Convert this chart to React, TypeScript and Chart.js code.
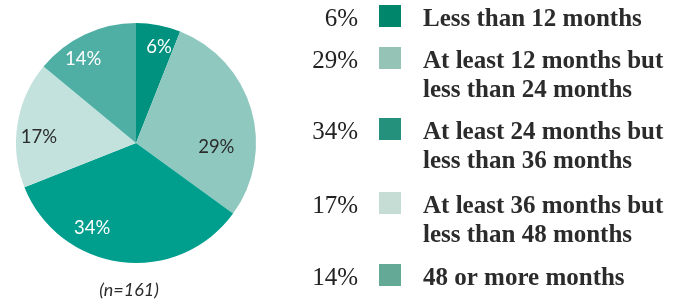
import React, { useEffect, useRef } from "react";
import { Chart, registerables } from "chart.js";

Chart.register(...registerables);

const categories = [
  ["Less than 12 months"],
  ["At least 12 months but", "less than 24 months"],
  ["At least 24 months but", "less than 36 months"],
  ["At least 36 months but", "less than 48 months"],
  ["48 or more months"],
];
const values = [6, 29, 34, 17, 14];
const percentLabels = ["6%", "29%", "34%", "17%", "14%"];
const sliceColors = ["#00917f", "#8fc8bf", "#009e8d", "#c3e2dd", "#50afa5"];
const swatchColors = ["#00866a", "#95c3b6", "#24917c", "#c5ddd5", "#63a995"];
const sliceLabelColors = ["#ffffff", "#2b2b2b", "#ffffff", "#2b2b2b", "#ffffff"];
// label placement relative to each slice: angle offset (deg) from mid-angle, radius fraction
const labelPlacement = [
  [2.8, 0.82],
  [19, 0.67],
  [20, 0.8],
  [-5.5, 0.81],
  [-6.8, 0.83],
];
const sampleNote = "(n=161)";

const legendPlugin = {
  id: "customLegend",
  afterDraw(chart: any) {
    const ctx = chart.ctx;
    const meta = chart.getDatasetMeta(0);
    ctx.save();
    // slice labels
    ctx.font = "18.5px Lato";
    ctx.textAlign = "center";
    ctx.textBaseline = "middle";
    meta.data.forEach((arc: any, i: number) => {
      const { x, y, startAngle, endAngle, outerRadius } = arc.getProps(
        ["x", "y", "startAngle", "endAngle", "outerRadius"],
        true
      );
      const mid = (startAngle + endAngle) / 2 + (labelPlacement[i][0] * Math.PI) / 180;
      const r = outerRadius * labelPlacement[i][1];
      ctx.fillStyle = sliceLabelColors[i];
      ctx.fillText(percentLabels[i], x + Math.cos(mid) * r, y + Math.sin(mid) * r);
    });
    // sample note
    const cx = (chart.chartArea.left + chart.chartArea.right) / 2;
    ctx.font = "italic 18px Lato";
    ctx.fillStyle = "#2b2b2b";
    ctx.textBaseline = "alphabetic";
    ctx.fillText(sampleNote, cx - 7, 296);

    // legend
    const baselines = [26, 68, 139, 213, 285];
    const lineH = 29;
    ctx.textBaseline = "alphabetic";
    categories.forEach((lines, i) => {
      const b = baselines[i];
      ctx.font = "25px 'Liberation Serif'";
      ctx.fillStyle = "#222222";
      ctx.textAlign = "right";
      ctx.fillText(percentLabels[i], 358, b);
      ctx.fillStyle = swatchColors[i];
      ctx.fillRect(379, b - 21, 22, 22);
      ctx.font = "bold 25px 'Liberation Serif'";
      ctx.fillStyle = "#2b2b2b";
      ctx.textAlign = "left";
      lines.forEach((ln, j) => ctx.fillText(ln, 423, b + j * lineH));
    });
    ctx.restore();
  },
};

export default function App() {
  const ref = useRef<HTMLCanvasElement>(null);
  useEffect(() => {
    if (!ref.current) return;
    const chart = new Chart(ref.current, {
      type: "pie",
      data: {
        labels: categories.map((c) => c.join(" ")),
        datasets: [
          {
            data: values,
            backgroundColor: sliceColors,
            borderWidth: 0,
          },
        ],
      },
      options: {
        animation: false,
        responsive: false,
        layout: { padding: { left: 16, right: 429, top: 23, bottom: 40 } },
        plugins: { legend: { display: false }, tooltip: { enabled: false } },
      },
      plugins: [legendPlugin],
    });
    return () => chart.destroy();
  }, []);
  return (
    <div style={{ position: "fixed", left: 0, top: 0, width: 685, height: 303, background: "#fff" }}>
      <canvas ref={ref} width={685} height={303} style={{ width: 685, height: 303 }} />
    </div>
  );
}
